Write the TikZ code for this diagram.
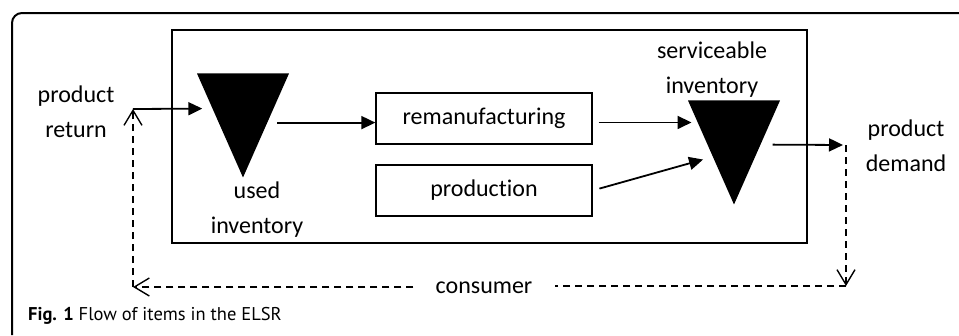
\documentclass[tikz,border=0pt]{standalone}
\usepackage{fontspec}
\setmainfont{Carlito}[Ligatures=NoCommon]
\newfontfamily\capfont{PT Sans}
\usepackage{tikz}
\usetikzlibrary{calc, positioning, arrows.meta, shapes.geometric}
\tikzset{
    lbl/.style={font=\fontsize{24}{35}\selectfont, align=center, inner sep=0pt},
    process/.style={rectangle, draw=black, line width=1.3pt, minimum width=216pt, minimum height=51pt, font=\fontsize{24}{35}\selectfont},
    stock/.style={isosceles triangle, isosceles triangle stretches, shape border rotate=270, fill=black, inner sep=0pt, minimum width=92pt, minimum height=104pt},
    flow/.style={-{Triangle[length=14pt, width=13pt]}, line width=1.8pt},
    back/.style={dash pattern=on 7pt off 5pt, line width=1.4pt},
    backarrow/.style={back, -{Straight Barb[length=15pt, width=18pt]}}
}
\begin{document}
\begin{tikzpicture}[x=1pt, y=-1pt]
    \useasboundingbox (0,0) rectangle (959,335);

    % Frame
    \draw[line width=2pt, rounded corners=10pt] (12,335) -- (12,13) -- (959,13);
    \draw[line width=1.5pt] (172,30) rectangle (807,243);

    % Inventories
    \node[stock, anchor=apex] (used) at (243,178) {};
    \node[stock, anchor=apex] (serv) at (734,205) {};
    \node[lbl, anchor=base] (usedlbl) at (257,233) {used\\inventory};
    \node[lbl, anchor=base] (servlbl) at (712,93) {serviceable\\inventory};

    % Processes
    \node[process] (reman) at (484,118.5) {remanufacturing};
    \node[process] (prod) at (484,190.5) {production};

    % Outside
    \node[lbl, anchor=base] (ret) at (76,137) {product\\return};
    \node[lbl, anchor=base] (dem) at (906,171) {product\\demand};
    \node[lbl, inner xsep=22pt, anchor=base] (cons) at (484,293) {consumer};

    % Points on the triangle sides
    \coordinate (uin) at ($(used.apex)!0.663!(used.right corner)$);
    \coordinate (uout) at ($(used.apex)!0.529!(used.left corner)$);
    \coordinate (sin1) at ($(serv.apex)!0.788!(serv.right corner)$);
    \coordinate (sin2) at ($(serv.apex)!0.46!(serv.right corner)$);
    \coordinate (sout) at ($(serv.apex)!0.577!(serv.left corner)$);

    \coordinate (rin) at (133,109);
    \coordinate (dout) at (846,145);
    \coordinate (cr) at (846,286);
    \coordinate (cl) at (133,287);

    % Material flow
    \draw[flow, shorten >=10pt] (rin) -- (uin);
    \draw[flow, shorten <=10pt] (uout) -- (uout -| reman.west);
    \draw[flow, shorten <=6pt, shorten >=6pt] (sin1 -| reman.east) -- (sin1);
    \draw[flow, shorten <=7pt, shorten >=10pt] (prod.east) -- (sin2);
    \draw[flow, shorten <=12pt, shorten >=3pt] (sout) -- (dout);

    % Consumer loop
    \draw[backarrow] (dout) -- (cr);
    \draw[back] (cr) -- (cr -| cons.east);
    \draw[backarrow] (cons.west |- cl) -- (cl);
    \draw[backarrow] (cl) -- (rin);

    % Caption
    \node[anchor=base west, inner sep=0pt, font=\capfont\fontsize{18.5}{22}\selectfont] (cap) at (28,320) {\textbf{Fig. 1} Flow of items in the ELSR};
\end{tikzpicture}
\end{document}
